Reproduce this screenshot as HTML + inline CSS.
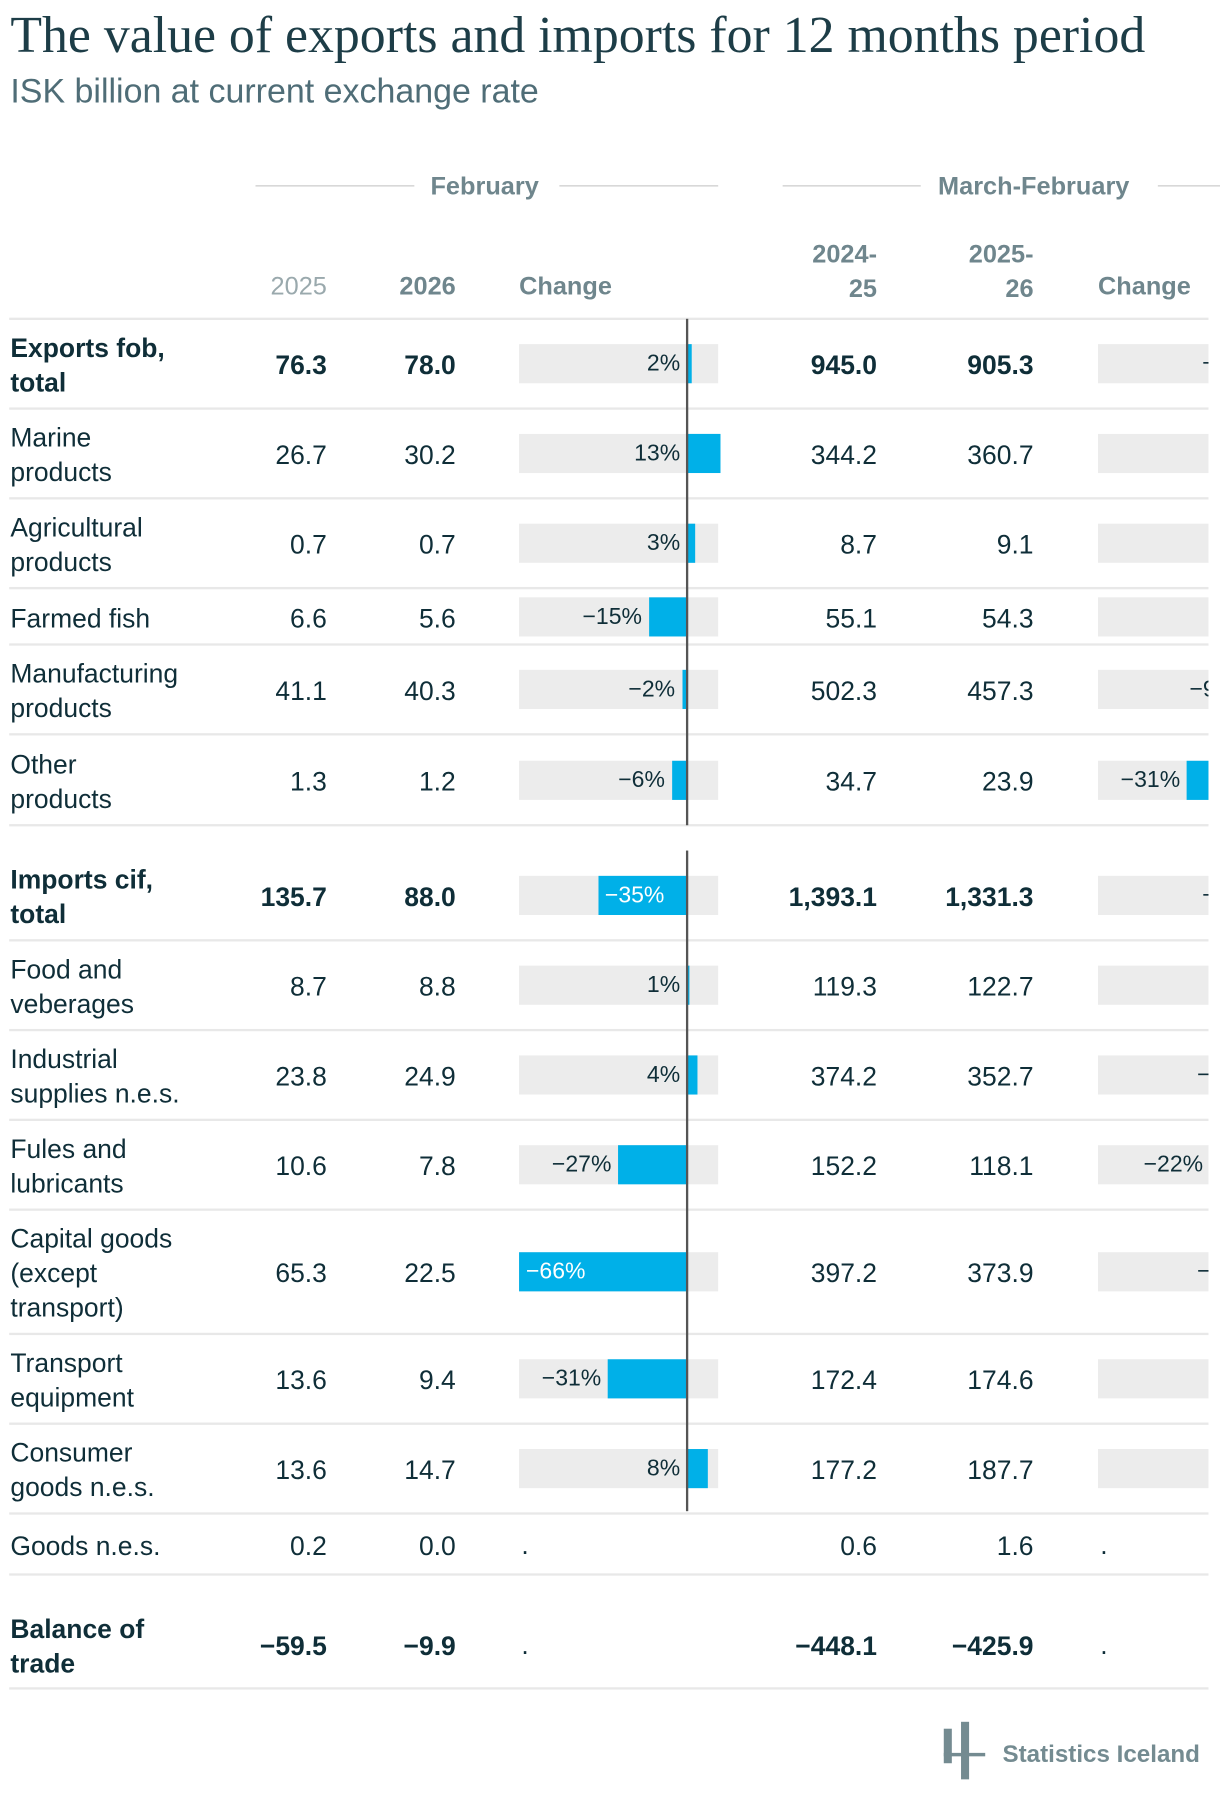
<!DOCTYPE html>
<html><head><meta charset="utf-8">
<style>
html,body{margin:0;padding:0;background:#fff;}
body{width:1220px;height:1808px;overflow:hidden;position:relative;}
#wrap{position:absolute;left:0;top:0;width:1060px;height:1571px;transform:scale(1.15094);transform-origin:0 0;font-family:"Liberation Sans",sans-serif;color:#0f2e38;}
.a{position:absolute;white-space:nowrap;}
.num{font-size:23px;text-align:right;}
.lbl{font-size:23px;line-height:30px;}
.hd{font-size:22px;color:#6f868d;font-weight:bold;}
.hl{position:absolute;height:2px;background:#e8e8e8;}
</style></head><body>
<div id="wrap">
  <div class="a" style="left:9px;top:4px;font-family:'Liberation Serif',serif;font-size:45px;color:#1d3d47;">The value of exports and imports for 12 months period</div>
  <div class="a" style="left:9px;top:63px;font-size:29.5px;color:#4f6d77;">ISK billion at current exchange rate</div>

  <div class="a hl" style="left:222px;top:161px;width:138px;background:#c8c8c8;height:1px;"></div>
  <div class="a hd" style="left:374px;top:149px;">February</div>
  <div class="a hl" style="left:486px;top:161px;width:138px;background:#c8c8c8;height:1px;"></div>
  <div class="a hl" style="left:680px;top:161px;width:120px;background:#c8c8c8;height:1px;"></div>
  <div class="a hd" style="left:815px;top:149px;">March-February</div>
  <div class="a hl" style="left:1006px;top:161px;width:54px;background:#c8c8c8;height:1px;"></div>

  <div class="a hd" style="right:776px;top:236px;font-weight:normal;color:#9aa9ad;">2025</div>
  <div class="a hd" style="right:664px;top:236px;">2026</div>
  <div class="a hd" style="left:451px;top:236px;">Change</div>
  <div class="a hd" style="right:298px;top:206px;text-align:right;line-height:30px;">2024-<br>25</div>
  <div class="a hd" style="right:162px;top:206px;text-align:right;line-height:30px;">2025-<br>26</div>
  <div class="a hd" style="left:954px;top:236px;">Change</div>
  <div class="hl" style="left:8px;top:276px;width:1042px;"></div>

  <div class="a" style="left:820px;top:1502px;width:7px;height:30px;background:#748b91;"></div>
  <div class="a" style="left:835px;top:1496px;width:7px;height:50px;background:#748b91;"></div>
  <div class="a" style="left:820px;top:1523px;width:36px;height:3px;background:#748b91;"></div>
  <div class="a" style="left:871px;top:1513px;font-size:21px;color:#748b91;font-weight:bold;">Statistics Iceland</div>
  <div id="clip" class="a" style="left:0;top:0;width:1050px;height:1571px;overflow:hidden;"></div>
</div>
<script>
const labels=["Exports fob,<br>total","Marine<br>products","Agricultural<br>products","Farmed fish","Manufacturing<br>products","Other<br>products","Imports cif,<br>total","Food and<br>veberages","Industrial<br>supplies n.e.s.","Fules and<br>lubricants","Capital goods<br>(except<br>transport)","Transport<br>equipment","Consumer<br>goods n.e.s.","Goods n.e.s.","Balance of<br>trade"];
const bold=[1,0,0,0,0,0,1,0,0,0,0,0,0,0,1];
const feb2025=["76.3","26.7","0.7","6.6","41.1","1.3","135.7","8.7","23.8","10.6","65.3","13.6","13.6","0.2","\u221259.5"];
const feb2026=["78.0","30.2","0.7","5.6","40.3","1.2","88.0","8.8","24.9","7.8","22.5","9.4","14.7","0.0","\u22129.9"];
const febChange=[2,13,3,-15,-2,-6,-35,1,4,-27,-66,-31,8,null,null];
const per2425=["945.0","344.2","8.7","55.1","502.3","34.7","1,393.1","119.3","374.2","152.2","397.2","172.4","177.2","0.6","\u2212448.1"];
const per2526=["905.3","360.7","9.1","54.3","457.3","23.9","1,331.3","122.7","352.7","118.1","373.9","174.6","187.7","1.6","\u2212425.9"];
const perChange=[-4,5,5,-1,-9,-31,-4,3,-6,-22,-6,1,6,null,null];
const rowTop=[277,355,433,511,560,638,739,817,895,973,1051,1159,1237,1315,1390];
const rowBot=[355,433,511,560,638,717,817,895,973,1051,1159,1237,1315,1368,1467];
const W=document.getElementById('wrap');
const C=document.getElementById('clip');
const pxPer=146/66;
function x(v,zero){return zero+v*pxPer;}
function mk(cls,style,html,parent){const d=document.createElement('div');d.className=cls;d.style.cssText=style;if(html!==undefined)d.innerHTML=html;(parent||W).appendChild(d);return d;}
function changeCell(v,bgL,cy,name,P){
  if(v===null){const t=mk('a num','left:'+(bgL+2)+'px;top:'+(cy-13)+'px;','.',P);
    
    return;}
  const zero=bgL+146;
  const bg=mk('a','left:'+bgL+'px;top:'+(cy-17)+'px;width:173px;height:34px;background:#ececec;',undefined,P);
  
  
  const xv=x(v,zero);let l=Math.min(zero,xv),r=Math.max(zero,xv);if(r-l<2){r=l+2;}
  const b=mk('a','left:'+l+'px;top:'+(cy-17)+'px;width:'+(r-l)+'px;height:34px;background:#00b0e8;',undefined,P);
  
  
  const txt=(v<0?'\u2212':'')+Math.abs(v)+'%';
  let t;
  if(v<0&&(r-l)>70){t=mk('a','left:'+(l+6)+'px;top:'+(cy-11)+'px;font-size:20px;color:#fff;',txt,P);}
  else{const rightEdge=(v<0?l:zero)-6;
    t=mk('a','left:'+(rightEdge-80)+'px;width:80px;text-align:right;top:'+(cy-11)+'px;font-size:20px;color:#0f2e38;',txt,P);}
  
  
}
for(let i=0;i<labels.length;i++){
  const cy=(rowTop[i]+rowBot[i])/2;
  const fw=bold[i]?'bold':'normal';
  const nl=(labels[i].match(/<br>/g)||[]).length+1;
  const lb=mk('a lbl','left:9px;top:'+(cy-nl*15+1)+'px;font-weight:'+fw+';',labels[i]);
  
  
  const vals=[[feb2025,284],[feb2026,396],[per2425,762],[per2526,898]];
  vals.forEach((p,k)=>{const d=mk('a num','right:'+(1060-p[1])+'px;top:'+(cy-12)+'px;font-weight:'+fw+';',p[0][i]);
    
    });
  changeCell(febChange[i],451,cy,'feb-change-'+i,W);
  changeCell(perChange[i],954,cy,'period-change-'+i,C);
  const s=mk('hl','left:8px;top:'+(rowBot[i]-1)+'px;width:1042px;');
  
  
}
const z1=mk('a','left:596px;top:277px;width:2px;height:440px;background:#555;');


const z2=mk('a','left:596px;top:739px;width:2px;height:574px;background:#555;');


</script>
</body></html>
